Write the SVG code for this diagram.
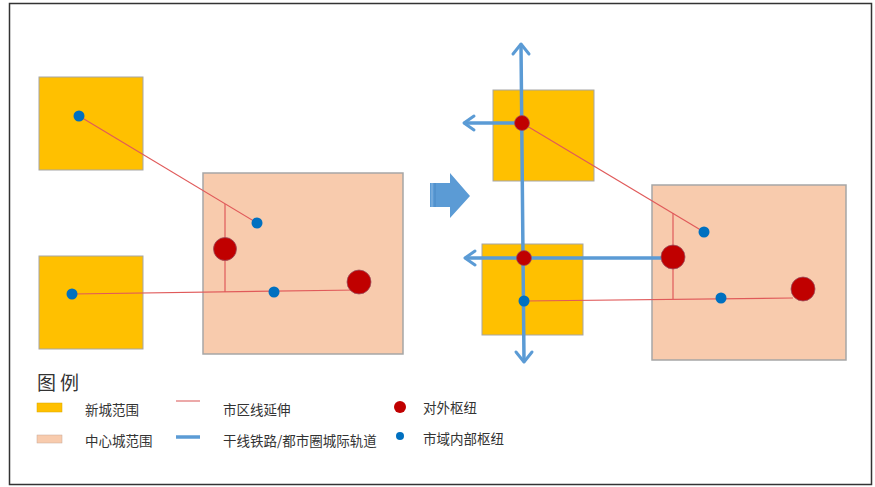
<svg xmlns="http://www.w3.org/2000/svg" width="875" height="487" viewBox="0 0 875 487">
<style>
.ny{fill:#FFC000;stroke:#A6A6A6;stroke-width:1}
.cc{fill:#F8CBAD;stroke:#A6A6A6;stroke-width:1.5}
.rl{stroke:#E05A5A;stroke-width:1.2;fill:none}
.bl{stroke:#5B9BD5;stroke-width:3.5;fill:none;stroke-linecap:round}
.bh{stroke:#5B9BD5;stroke-width:3;fill:none;stroke-linecap:round;stroke-linejoin:round}
.rd{fill:#C00000;stroke:#9A5060;stroke-width:0.8}
.bd{fill:#0070C0}
text{font-family:"Noto Sans CJK SC","Liberation Sans",sans-serif;fill:#333}
.lg{font-size:13.5px}
</style>
<rect x="9.5" y="3.5" width="862" height="481" fill="#fff" stroke="#333" stroke-width="1.5"/>

<!-- Left panel -->
<g id="left-newcity-top"><rect class="ny" x="39" y="77" width="104" height="93"/></g>
<g id="left-newcity-bottom"><rect class="ny" x="39" y="256" width="104" height="93"/></g>
<g id="left-center"><rect class="cc" x="203" y="173" width="200" height="181"/></g>
<g id="left-connectors">
<line class="rl" x1="79" y1="116" x2="257" y2="223"/>
<line class="rl" x1="225" y1="204" x2="225" y2="292"/>
<line class="rl" x1="72" y1="294" x2="358" y2="290"/>
</g>
<g id="left-hubs">
<circle class="rd" cx="225" cy="249" r="11.5"/>
<circle class="rd" cx="359" cy="282" r="12"/>
<circle class="bd" cx="79" cy="116" r="5.5"/>
<circle class="bd" cx="257" cy="223" r="5.5"/>
<circle class="bd" cx="72" cy="294" r="5.5"/>
<circle class="bd" cx="274" cy="292" r="5.5"/>
</g>

<!-- Transition arrow -->
<g id="transition-arrow">
<polygon points="430,183 450,183 450,173 470,196 450,218 450,207 430,207" fill="#5B9BD5"/>
<line x1="432" y1="183" x2="432" y2="207" stroke="#8DB8E3" stroke-width="1"/>
<line x1="435" y1="183" x2="435" y2="207" stroke="#4A88C4" stroke-width="1"/>
</g>

<!-- Right panel -->
<g id="right-newcity-top"><rect class="ny" x="493" y="90" width="101" height="91"/></g>
<g id="right-newcity-bottom"><rect class="ny" x="482" y="244" width="101" height="91"/></g>
<g id="right-center"><rect class="cc" x="652" y="185" width="194" height="175"/></g>
<g id="right-connectors">
<line class="rl" x1="522" y1="123" x2="704" y2="232"/>
<line class="rl" x1="673" y1="213" x2="673" y2="299"/>
<line class="rl" x1="524" y1="301" x2="793" y2="298"/>
<line class="bl" x1="521" y1="45" x2="524" y2="361"/>
<polyline class="bh" points="513,54 521,44 529,54"/>
<polyline class="bh" points="516,352 524,362 532,352"/>
<line class="bl" x1="465" y1="123" x2="522" y2="123"/>
<polyline class="bh" points="474,116 464,123 474,130"/>
<line class="bl" x1="466" y1="258" x2="662" y2="258"/>
<polyline class="bh" points="475,251 465,258 475,265"/>
</g>
<g id="right-hubs">
<circle class="rd" cx="522" cy="123" r="7.5"/>
<circle class="rd" cx="524" cy="258" r="7.5"/>
<circle class="rd" cx="673" cy="257" r="12"/>
<circle class="rd" cx="803" cy="289" r="12"/>
<circle class="bd" cx="524" cy="301" r="5.5"/>
<circle class="bd" cx="704" cy="232" r="5.5"/>
<circle class="bd" cx="721" cy="298" r="5.5"/>
</g>

<!-- Legend -->
<g id="legend">
<text x="37" y="390" font-size="19" letter-spacing="4">图例</text>
<rect x="37" y="403" width="25" height="9" fill="#FFC000" stroke="#D8A800" stroke-width="0.5"/>
<text class="lg" x="85" y="415">新城范围</text>
<rect x="37" y="435" width="25" height="8" fill="#F8CBAD" stroke="#C8A898" stroke-width="0.5"/>
<text class="lg" x="85" y="446">中心城范围</text>
<line x1="176" y1="401" x2="200" y2="401" stroke="#E07070" stroke-width="1.2"/>
<text class="lg" x="223" y="415">市区线延伸</text>
<line x1="176" y1="437" x2="200" y2="437" stroke="#5B9BD5" stroke-width="3.5"/>
<text class="lg" x="223" y="446">干线铁路/都市圈城际轨道</text>
<circle cx="400" cy="407" r="6" fill="#C00000"/>
<text class="lg" x="423" y="413">对外枢纽</text>
<circle cx="400" cy="436" r="4" fill="#0070C0"/>
<text class="lg" x="423" y="444">市域内部枢纽</text>
</g>
</svg>
